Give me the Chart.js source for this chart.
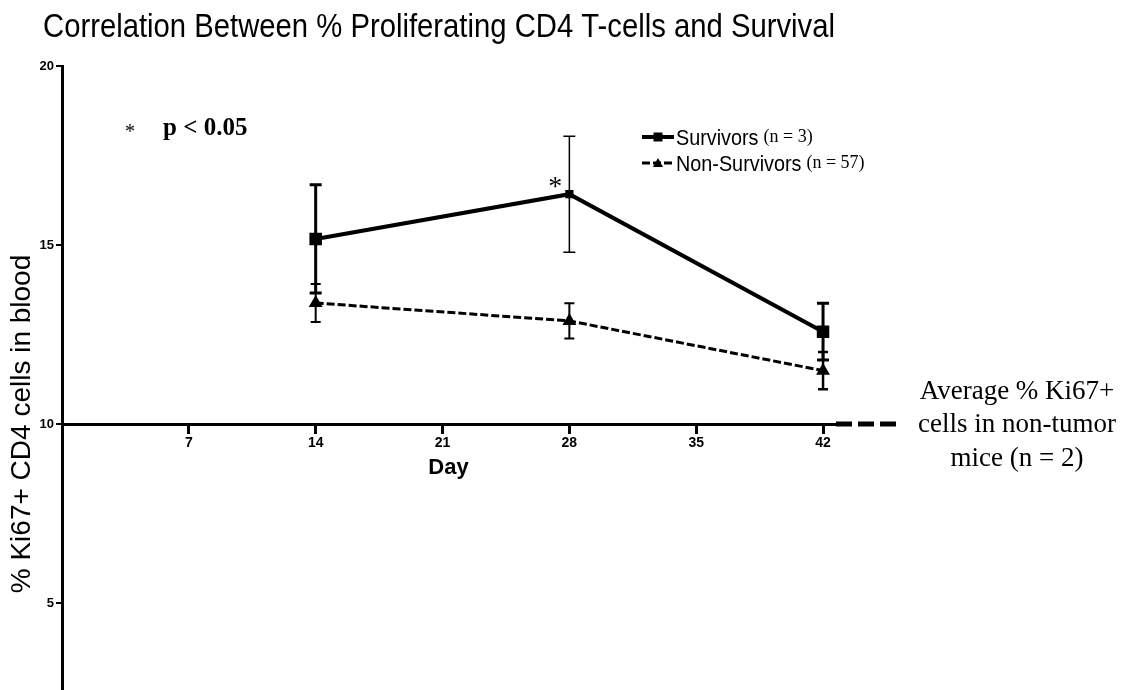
<!DOCTYPE html>
<html>
<head>
<meta charset="utf-8">
<title>Proliferating CD4 T-cells and Survival</title>
<script src="https://cdn.jsdelivr.net/npm/chart.js@4.4.1/dist/chart.umd.min.js"></script>
<style>
  html, body { margin: 0; padding: 0; background: #fff; }
  #wrap { width: 1135px; height: 690px; overflow: hidden; }
</style>
</head>
<body>
<div id="wrap"><canvas id="kiChart" width="1135" height="800"></canvas></div>
<script>
'use strict';

// sampling days and axis ticks
const days = [14, 28, 42];
const dayTicks = [7, 14, 21, 28, 35, 42];

// mean % Ki67+ CD4 cells and error (+/-)
const survivorsMean = [15.17, 16.42, 12.58];
const survivorsErr = [1.51, 1.62, 0.79];
const nonSurvivorsMean = [13.38, 12.88, 11.49];
const nonSurvivorsErr = [0.53, 0.49, 0.52];

// group sizes
const survivorsN = 3;
const nonSurvivorsN = 57;
const nonTumorN = 2;

// average for non-tumor mice, drawn as the dashed reference
const nonTumorAvg = 10;

// days flagged as significant
const sigDays = [28];

const SANS = "'Liberation Sans', Arial, sans-serif";
const NARROW = "'Liberation Sans Narrow', 'Liberation Sans', Arial, sans-serif";
const SERIF = "'Liberation Serif', 'Times New Roman', serif";

function toPoints(vals) {
  return days.map(function (d, i) { return { x: d, y: vals[i] }; });
}

// vertical error bars with caps
const errorBars = {
  id: 'errorBars',
  beforeDatasetsDraw: function (chart) {
    const ctx = chart.ctx;
    const xs = chart.scales.x, ys = chart.scales.y;
    chart.data.datasets.forEach(function (ds) {
      if (!ds.errors) return;
      ctx.save();
      ctx.strokeStyle = '#000';
      ds.data.forEach(function (p, j) {
        const px = xs.getPixelForValue(p.x);
        const top = ys.getPixelForValue(p.y + ds.errors[j]);
        const bot = ys.getPixelForValue(p.y - ds.errors[j]);
        const cap = ds.capHalf;
        ctx.lineWidth = ds.errorWidths[j];
        ctx.beginPath();
        ctx.moveTo(px, top); ctx.lineTo(px, bot);
        ctx.moveTo(px - cap, top); ctx.lineTo(px + cap, top);
        ctx.moveTo(px - cap, bot); ctx.lineTo(px + cap, bot);
        ctx.stroke();
      });
      ctx.restore();
    });
  }
};

function drawMarker(ctx, style, x, y) {
  ctx.beginPath();
  if (style === 'rect') {
    ctx.rect(x - 4.5, y - 4.5, 9, 9);
  } else {
    ctx.moveTo(x, y - 5); ctx.lineTo(x + 5, y + 4); ctx.lineTo(x - 5, y + 4);
    ctx.closePath();
  }
  ctx.fill();
}

// title, legend, significance notes and the non-tumor reference
const labelsPlugin = {
  id: 'labels',
  afterDraw: function (chart) {
    const ctx = chart.ctx;
    const xs = chart.scales.x, ys = chart.scales.y;
    const area = chart.chartArea;
    ctx.save();
    ctx.fillStyle = '#000';
    ctx.strokeStyle = '#000';
    ctx.textBaseline = 'alphabetic';

    // chart title
    ctx.font = '33px ' + SANS;
    ctx.textAlign = 'left';
    ctx.fillText('Correlation Between % Proliferating CD4 T-cells and Survival', 43, 37, 792);

    // significance key
    ctx.font = '20px ' + SERIF;
    ctx.fillText('*', 125, 138);
    ctx.font = 'bold 25px ' + SERIF;
    ctx.fillText('p < 0.05', 163, 135);

    // asterisk over significant survivors points
    ctx.font = '28px ' + SERIF;
    ctx.textAlign = 'center';
    sigDays.forEach(function (d) {
      const i = days.indexOf(d);
      ctx.fillText('*', xs.getPixelForValue(d) - 14, ys.getPixelForValue(survivorsMean[i]) + 1);
    });

    // legend
    const rows = [
      { ds: chart.data.datasets[0], n: survivorsN, y: 137 },
      { ds: chart.data.datasets[1], n: nonSurvivorsN, y: 163 }
    ];
    rows.forEach(function (r) {
      ctx.save();
      ctx.lineWidth = r.ds.borderWidth;
      ctx.setLineDash(r.ds.borderDash || []);
      ctx.beginPath();
      ctx.moveTo(642, r.y); ctx.lineTo(674, r.y);
      ctx.stroke();
      ctx.restore();
      drawMarker(ctx, r.ds.pointStyle, 658, r.y);
      ctx.textAlign = 'left';
      ctx.font = '22px ' + SANS;
      const w = Math.min(ctx.measureText(r.ds.label).width * 0.9, 200);
      ctx.fillText(r.ds.label, 676, r.y + 8, w);
      ctx.font = '18px ' + SERIF;
      ctx.fillText('(n = ' + r.n + ')', 676 + w + 5, r.y + 5);
    });

    // non-tumor reference, dashed out from the axis
    const ry = ys.getPixelForValue(nonTumorAvg);
    ctx.save();
    ctx.lineWidth = 5;
    ctx.setLineDash([16, 6]);
    ctx.beginPath();
    ctx.moveTo(area.right + 1, ry);
    ctx.lineTo(area.right + 63, ry);
    ctx.stroke();
    ctx.restore();

    ctx.font = '27px ' + SERIF;
    ctx.textAlign = 'center';
    ctx.textBaseline = 'middle';
    ctx.fillText('Average % Ki67+', 1017, ry - 32);
    ctx.fillText('cells in non-tumor', 1017, ry + 1);
    ctx.fillText('mice (n = ' + nonTumorN + ')', 1017, ry + 35);
    ctx.restore();
  }
};

const ctx = document.getElementById('kiChart');

new Chart(ctx, {
  type: 'line',
  data: {
    datasets: [
      {
        label: 'Survivors',
        data: toPoints(survivorsMean),
        errors: survivorsErr,
        errorWidths: [3, 1.5, 3],
        capHalf: 6,
        borderColor: '#000',
        backgroundColor: '#000',
        borderWidth: 4,
        pointStyle: 'rect',
        pointRadius: [6, 3, 6],
        tension: 0
      },
      {
        label: 'Non-Survivors',
        data: toPoints(nonSurvivorsMean),
        errors: nonSurvivorsErr,
        errorWidths: [2, 2, 2.5],
        capHalf: 5,
        borderColor: '#000',
        backgroundColor: '#000',
        borderWidth: 3,
        borderDash: [8, 3],
        pointStyle: 'triangle',
        pointRadius: 5,
        tension: 0
      }
    ]
  },
  options: {
    responsive: false,
    animation: false,
    layout: { padding: { top: 66, left: 2, right: 300, bottom: 18 } },
    plugins: {
      legend: { display: false },
      title: { display: false },
      tooltip: { enabled: false }
    },
    scales: {
      x: {
        type: 'linear',
        min: 0,
        max: 42.66,
        position: { y: nonTumorAvg },
        afterBuildTicks: function (scale) {
          scale.ticks = dayTicks.map(function (v) { return { value: v }; });
        },
        grid: { display: true, drawOnChartArea: false, drawTicks: true, tickLength: 8, color: '#000', lineWidth: 3 },
        border: { display: true, color: '#000', width: 3 },
        ticks: { color: '#000', padding: 3, maxRotation: 0, font: { family: NARROW, size: 14, weight: 'bold' } },
        title: {
          display: true,
          text: 'Day',
          color: '#000',
          font: { family: SANS, size: 22, weight: 'bold' },
          padding: { top: 0, bottom: 0 }
        }
      },
      y: {
        min: 0,
        max: 20,
        afterFit: function (scale) { scale.width = 60; },
        ticks: { stepSize: 5, color: '#000', padding: 2, font: { family: NARROW, size: 13, weight: 'bold' } },
        grid: { display: true, drawOnChartArea: false, drawTicks: true, tickLength: 6, color: '#000', lineWidth: 2 },
        border: { display: true, color: '#000', width: 3 },
        title: {
          display: true,
          text: '% Ki67+ CD4 cells in blood',
          color: '#000',
          font: { family: SANS, size: 28 },
          padding: { top: 3, bottom: 0 }
        }
      }
    }
  },
  plugins: [errorBars, labelsPlugin]
});
</script>
</body>
</html>
